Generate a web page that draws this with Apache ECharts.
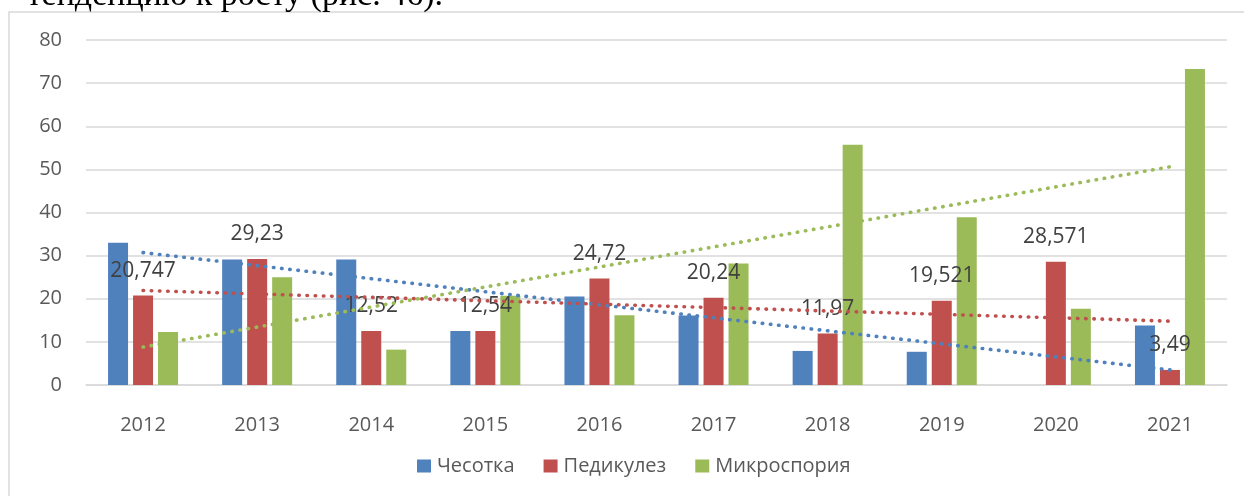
<!DOCTYPE html>
<html>
<head>
<meta charset="utf-8">
<script src="https://cdn.jsdelivr.net/npm/echarts@6/dist/echarts.min.js"></script>
<style>
  html, body { margin: 0; padding: 0; background: #ffffff; }
  #chart { width: 1244px; height: 496px; }
</style>
</head>
<body>
<div id="chart"></div>
<script>
// Годы наблюдения
const years = ['2012', '2013', '2014', '2015', '2016', '2017', '2018', '2019', '2020', '2021'];

// Показатели заболеваемости по годам
const scabies     = [33.0, 29.1, 29.1, 12.5, 20.5, 16.1, 7.9, 7.7, null, 13.8];
const pediculosis = [20.747, 29.23, 12.52, 12.54, 24.72, 20.24, 11.97, 19.521, 28.571, 3.49];
const microsporia = [12.3, 25.0, 8.2, 20.7, 16.2, 28.2, 55.7, 38.9, 17.7, 73.3];

// Линейные тренды: значения на концах (2012 и 2021)
const scabiesTrend     = [30.7, 3.5];
const pediculosisTrend = [21.9, 14.8];
const microsporiaTrend = [8.8, 50.6];

// Шкала оси Y
const yTicks = [0, 10, 20, 30, 40, 50, 60, 70, 80];

const seriesNames = ['Чесотка', 'Педикулез', 'Микроспория'];
const colors = ['#4f81bd', '#c0504d', '#9bbb59'];

function trendData(ends) {
  const arr = years.map(() => null);
  arr[0] = ends[0];
  arr[arr.length - 1] = ends[1];
  return arr;
}

const FONT = '"Open Sans", sans-serif';

const chart = echarts.init(document.getElementById('chart'), null, { renderer: 'canvas' });

function barSeries(name, data, color, extra) {
  return Object.assign({
    name: name,
    type: 'bar',
    data: data,
    barWidth: 20,
    barGap: '25%',
    itemStyle: { color: color },
    z: 2
  }, extra || {});
}

function trendSeries(name, ends, color) {
  return {
    name: name + ' тренд',
    type: 'line',
    data: trendData(ends),
    connectNulls: true,
    symbol: 'none',
    silent: true,
    z: 5,
    lineStyle: { color: color, width: 3.6, type: [0.5, 7.7], cap: 'round' }
  };
}

chart.setOption({
  animation: false,
  backgroundColor: '#ffffff',
  grid: { left: 86, right: 17, top: 40, bottom: 111, containLabel: false },
  legend: {
    data: seriesNames,
    left: 412,
    top: 451,
    icon: 'rect',
    itemWidth: 14,
    itemHeight: 13,
    itemGap: 29,
    textStyle: { fontFamily: FONT, fontSize: 20, color: '#595959', padding: [0, 0, 0, 1] }
  },
  xAxis: {
    type: 'category',
    data: years,
    axisLine: { lineStyle: { color: '#d9d9d9', width: 1.5 } },
    axisTick: { show: false },
    axisLabel: { fontFamily: FONT, fontSize: 20, color: '#595959', margin: 30 }
  },
  yAxis: {
    type: 'value',
    min: yTicks[0],
    max: yTicks[yTicks.length - 1],
    interval: yTicks[1] - yTicks[0],
    axisLine: { show: false },
    axisTick: { show: false },
    splitLine: { lineStyle: { color: '#d9d9d9', width: 1.5 } },
    axisLabel: { fontFamily: FONT, fontSize: 20, color: '#595959', margin: 24 }
  },
  series: [
    barSeries(seriesNames[0], scabies, colors[0]),
    barSeries(seriesNames[1], pediculosis, colors[1], {
      label: {
        show: true,
        position: 'top',
        distance: 14,
        fontFamily: FONT,
        fontSize: 21,
        color: '#404040',
        formatter: p => String(p.value).replace('.', ',')
      },
      labelLayout: { hideOverlap: false }
    }),
    barSeries(seriesNames[2], microsporia, colors[2]),
    trendSeries(seriesNames[0], scabiesTrend, colors[0]),
    trendSeries(seriesNames[1], pediculosisTrend, colors[1]),
    trendSeries(seriesNames[2], microsporiaTrend, colors[2])
  ],
  graphic: [
    {
      type: 'polyline',
      silent: true,
      z: 0,
      shape: { points: [[9, 496], [9, 12], [1244, 12]] },
      style: { stroke: '#d9d9d9', lineWidth: 1.5, fill: null }
    },
    {
      type: 'text',
      silent: true,
      x: 443,
      y: -4,
      style: {
        text: 'тенденцию к росту (рис. 46).',
        font: '34px "Liberation Serif", "Times New Roman", serif',
        fill: '#000000',
        align: 'right',
        verticalAlign: 'middle'
      }
    }
  ]
});
</script>
</body>
</html>
